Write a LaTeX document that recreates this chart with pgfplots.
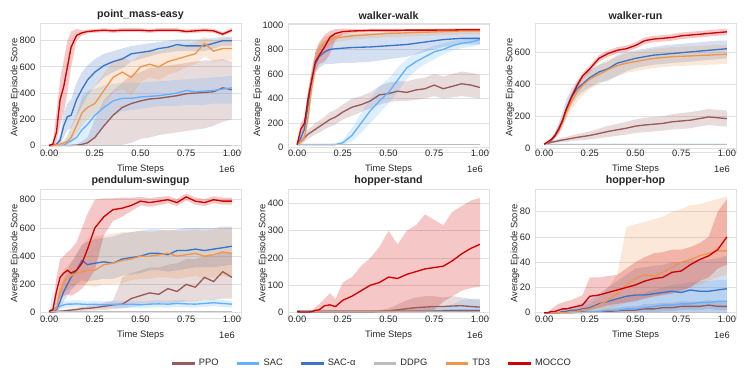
\documentclass[border=0pt]{standalone}
\usepackage{fontspec}
\setmainfont{Liberation Sans}
\usepackage{pgfplots}
\usepackage{pgfplotstable}
\pgfplotsset{compat=1.18}
\usepgfplotslibrary{fillbetween}

\definecolor{ppoc}{HTML}{985A5A}
\definecolor{sacc}{HTML}{62B0FF}
\definecolor{sacac}{HTML}{3A74C6}
\definecolor{ddpgc}{HTML}{BDBDBD}
\definecolor{tdc}{HTML}{F0954C}
\definecolor{moccoc}{HTML}{D00000}
\definecolor{gridc}{HTML}{E0E0E0}
\definecolor{txtc}{HTML}{262626}

% columns: mean, lower and upper edge of the band for each method
% a = PPO, b = SAC, c = SAC-alpha, d = DDPG, e = TD3, f = MOCCO
\pgfplotstableread{
x a aL aH b bL bH c cL cH d e eL eH f fL fH
0    0 0 0 0 0 0 0 0 0 0 0 0 0 0 0 0
0.02 0 0 0 0 0 0 0 0 10 0 0 0 5 10 0 20
0.04 0 0 0 0 0 0 10 0 30 0 5 0 15 100 30 250
0.06 0 0 0 0 0 5 40 10 80 0 10 0 25 350 150 500
0.08 0 0 0 2 0 20 150 60 250 0 20 5 40 450 250 650
0.10 0 0 0 20 0 80 220 120 320 0 30 10 70 600 400 800
0.12 0 0 0 35 0 150 230 130 350 0 60 20 120 750 600 870
0.15 2 0 10 60 0 220 350 220 480 0 150 80 250 840 800 890
0.18 8 0 30 120 0 380 430 300 560 0 250 150 350 860 840 880
0.21 20 0 60 160 10 420 500 380 610 0 290 200 400 870 855 885
0.25 60 0 200 230 60 430 560 450 660 0 320 230 450 875 860 890
0.30 150 0 350 290 160 460 610 520 700 0 420 300 550 880 865 895
0.35 230 0 420 340 230 470 640 560 720 0 520 400 640 875 860 890
0.40 290 5 480 360 260 480 660 590 740 0 560 430 680 880 865 895
0.45 320 20 540 360 270 480 700 640 760 0 520 380 640 880 865 895
0.50 340 50 560 370 280 480 710 660 770 0 600 480 700 880 865 895
0.55 355 60 590 375 290 485 720 680 780 0 620 520 720 875 860 890
0.60 360 80 600 380 300 490 740 700 790 0 600 500 720 880 865 895
0.65 370 90 610 390 300 495 750 710 800 0 640 540 750 880 865 895
0.70 380 100 620 400 300 500 770 720 810 0 660 560 760 880 865 895
0.75 395 110 630 420 310 505 760 720 810 0 680 600 770 870 855 885
0.80 400 120 640 410 310 510 760 720 810 0 700 620 790 875 860 890
0.85 405 130 650 415 310 515 760 720 810 0 780 680 830 880 865 895
0.90 410 150 650 420 320 520 780 740 820 0 720 640 800 875 860 890
0.95 440 180 660 430 320 525 800 760 830 0 740 650 820 850 835 865
1.00 425 200 640 440 320 530 800 760 830 0 740 650 820 880 865 895
}\tA

\pgfplotstableread{
x a aL aH b bL bH c cL cH d e eL eH f fL fH
0    25 20 30 25 20 30 25 20 30 25 25 20 30 25 20 30
0.02 50 30 70 25 20 30 80 50 110 25 50 30 70 150 100 200
0.04 80 50 110 25 20 30 150 100 200 25 80 50 110 200 160 240
0.06 110 70 150 25 20 30 350 250 450 25 250 180 320 400 330 470
0.08 130 90 170 25 20 30 550 450 650 25 500 420 580 550 480 620
0.10 150 110 200 25 20 30 680 600 770 25 700 620 780 700 620 780
0.12 170 120 220 25 20 30 740 650 830 25 800 740 860 750 680 850
0.15 200 150 250 25 20 30 780 680 870 25 850 800 900 820 700 920
0.18 230 170 290 25 20 30 800 680 900 25 880 840 920 900 760 950
0.21 250 190 310 25 20 35 805 685 910 25 895 860 930 930 880 965
0.25 290 230 350 40 25 60 810 690 920 25 900 870 935 945 920 970
0.30 330 260 400 100 50 160 815 690 925 25 910 880 940 950 935 965
0.35 350 290 420 200 120 280 818 695 930 25 915 885 945 952 940 965
0.40 380 320 450 300 200 400 820 700 935 25 920 890 950 955 945 967
0.45 430 350 500 380 280 500 825 710 935 25 925 895 955 955 945 967
0.50 440 370 530 450 360 560 830 720 940 25 930 900 958 955 945 967
0.55 460 380 540 550 450 650 835 730 940 25 932 902 960 955 945 967
0.60 450 380 540 650 560 720 840 740 940 25 935 905 962 957 947 968
0.65 470 390 560 700 630 770 850 760 945 25 938 908 964 957 947 968
0.70 480 400 570 740 680 800 860 780 945 25 940 910 966 957 947 968
0.75 510 420 600 780 720 830 870 800 945 25 942 912 968 957 947 968
0.80 480 400 580 800 760 850 880 820 945 25 945 915 970 958 948 970
0.85 500 410 600 830 790 870 885 830 950 25 947 917 970 958 948 970
0.90 520 420 620 850 810 880 890 840 950 25 950 920 972 960 950 970
0.95 510 410 610 860 820 890 890 840 950 25 950 920 972 960 950 970
1.00 490 400 590 880 840 900 890 840 950 25 950 920 972 960 950 970
}\tB

\pgfplotstableread{
x a aL aH b bL bH c cL cH d e eL eH f fL fH
0    25 20 30 25 20 30 25 20 30 25 25 20 30 25 20 30
0.02 30 25 35 25 20 30 35 30 40 25 35 30 40 40 32 48
0.04 38 30 45 25 20 30 50 40 60 25 55 45 65 55 45 65
0.06 42 32 52 25 20 30 80 60 100 25 80 65 95 80 65 95
0.08 47 35 60 25 20 30 120 90 160 25 110 90 130 120 100 140
0.10 52 38 66 25 20 30 170 130 220 25 160 130 190 170 150 190
0.12 55 40 70 25 20 30 240 190 300 25 220 180 260 240 220 260
0.15 62 45 80 25 20 30 320 270 370 25 290 240 340 320 300 340
0.18 68 48 88 25 20 30 370 320 420 25 350 290 400 390 370 410
0.21 73 52 95 25 20 30 400 350 450 25 390 330 440 450 430 470
0.25 80 55 105 25 20 30 440 380 490 25 430 370 480 495 475 515
0.30 92 62 122 25 20 30 475 410 520 25 460 400 520 560 540 580
0.35 105 70 140 25 20 30 495 420 540 25 490 430 550 590 570 610
0.40 115 78 152 25 20 30 530 450 580 25 515 450 570 610 590 630
0.45 125 85 165 25 20 30 545 480 600 25 530 470 590 620 600 640
0.50 138 95 180 25 20 30 560 500 610 25 540 480 600 640 620 660
0.55 145 100 190 25 20 30 570 510 620 25 550 490 610 670 650 690
0.60 150 105 195 25 20 30 580 520 630 25 560 500 620 680 660 700
0.65 155 110 200 25 20 30 585 525 640 25 565 505 625 685 665 705
0.70 165 118 212 25 20 30 590 530 645 25 570 510 630 690 670 710
0.75 170 120 220 25 20 30 595 535 650 25 573 513 633 700 680 720
0.80 175 125 225 25 20 30 600 540 655 25 575 515 635 705 685 725
0.85 185 135 235 25 20 30 605 545 660 25 578 518 638 710 690 730
0.90 195 145 245 25 20 30 610 550 665 25 580 520 640 715 695 735
0.95 190 140 240 25 20 30 615 555 670 25 583 523 643 720 700 740
1.00 185 135 235 25 20 30 620 560 670 25 585 525 645 725 705 745
}\tC

\pgfplotstableread{
x a aL aH b bL bH c cL cH d e eL eH f fL fH
0    5 0 10 5 0 10 10 5 15 8 10 5 15 10 5 15
0.02 5 0 12 20 5 150 15 5 30 8 15 8 25 20 10 35
0.04 8 2 15 40 15 70 20 10 40 8 30 15 50 150 60 250
0.06 10 4 18 45 25 70 80 30 150 8 150 80 220 250 100 380
0.08 12 5 20 55 30 80 150 80 240 8 220 140 300 280 120 400
0.10 15 6 24 60 35 85 200 120 300 8 240 160 330 300 130 430
0.12 18 8 28 60 35 85 250 160 350 8 260 180 360 280 120 450
0.15 22 10 34 62 38 87 300 200 420 8 280 200 400 300 140 500
0.18 28 12 40 60 35 85 370 230 480 8 290 200 480 350 170 600
0.21 30 14 45 58 33 83 340 220 500 8 300 190 520 450 220 700
0.25 35 15 55 60 35 85 350 230 520 8 300 180 540 600 300 800
0.30 45 20 70 55 30 80 360 240 530 8 340 200 550 680 550 810
0.35 55 25 85 60 35 85 350 240 540 8 350 200 560 730 650 810
0.40 60 30 250 58 33 83 380 260 560 8 370 210 570 740 680 815
0.45 100 40 280 60 35 85 390 270 570 8 380 230 570 760 720 815
0.50 120 50 300 55 30 80 400 280 580 8 400 240 580 790 760 820
0.55 140 60 320 60 35 85 420 300 590 8 400 240 570 780 750 810
0.60 130 60 320 62 37 87 420 300 590 8 410 250 580 790 760 820
0.65 170 70 340 60 35 85 410 290 580 8 420 250 590 800 775 825
0.70 150 70 350 65 40 90 440 300 590 8 400 240 580 780 755 805
0.75 200 80 380 62 37 87 440 310 600 8 410 250 580 820 795 845
0.80 180 80 380 60 35 85 450 320 600 8 420 260 590 790 765 815
0.85 250 90 400 65 40 90 440 320 600 8 400 240 580 780 755 805
0.90 220 90 400 70 45 95 450 320 600 8 410 250 590 800 775 825
0.95 290 100 430 65 40 90 460 330 610 8 430 260 600 790 765 815
1.00 250 100 420 60 35 85 470 340 610 8 420 250 600 790 765 815
}\tD

\pgfplotstableread{
x a aL aH b bL bH c cL cH d e eL eH f fL fH
0    3 0 5 5 2 8 5 2 8 3 5 3 7 3 0 5
0.02 3 0 5 5 2 8 5 2 8 3 5 3 7 2 0 5
0.04 3 0 5 5 2 8 5 2 8 3 5 3 7 2 0 5
0.06 3 0 5 5 2 8 5 2 8 3 5 3 7 2 0 5
0.08 3 0 5 5 2 8 5 2 8 3 5 3 7 3 0 5
0.10 3 0 5 5 2 8 5 2 8 3 5 3 7 8 0 20
0.12 3 0 5 5 2 8 5 2 8 3 5 3 7 10 0 30
0.15 3 0 5 5 2 8 5 2 8 3 5 3 7 25 0 50
0.18 3 0 5 5 2 8 5 2 8 3 5 3 7 28 0 70
0.21 3 0 5 5 2 8 5 2 8 3 5 3 7 22 0 50
0.25 3 0 5 5 2 8 5 2 8 3 5 3 7 45 0 110
0.30 3 0 5 5 2 8 5 2 8 3 5 3 7 60 0 130
0.35 3 0 5 5 2 8 5 2 8 3 5 3 7 80 0 170
0.40 3 0 5 5 2 8 5 2 8 3 5 3 7 100 0 200
0.45 4 0 8 5 2 8 5 2 8 3 5 3 7 110 0 240
0.50 6 0 15 5 2 8 5 2 8 3 5 3 7 130 0 300
0.55 10 2 30 5 2 10 5 2 8 3 5 3 7 125 0 250
0.60 14 3 45 5 2 12 5 2 8 3 5 3 7 140 0 300
0.65 18 5 55 5 2 14 5 2 9 3 5 3 7 150 0 320
0.70 20 5 60 6 2 16 5 2 9 3 5 3 7 160 0 360
0.75 22 5 60 6 2 18 5 2 10 3 5 3 7 165 10 340
0.80 22 5 55 7 2 22 6 2 10 3 5 3 7 170 40 320
0.85 24 5 60 8 2 30 6 2 12 3 5 3 7 190 60 370
0.90 25 5 55 8 2 45 6 2 12 3 5 3 7 215 80 390
0.95 22 5 50 8 2 50 6 2 12 3 5 3 7 235 90 410
1.00 20 5 50 8 2 45 6 2 12 3 5 3 7 250 95 420
}\tE

\pgfplotstableread{
x a aL aH b bL bH c cL cH d e eL eH f fL fH
0    0 0 0 0 0 0 0 0 0 0 0 0 0 0 0 0
0.02 0 0 0 0 0 0 0 0 0 0 0 0 0 0 0 0
0.04 0 0 0 0 0 0 0 0 0 0 0 0 0 1 0 3
0.06 0 0 0 0 0 0 0 0 0 0 0 0 0 1 0 5
0.08 0 0 0 0 0 0 0 0 0 0 0 0 0 2 0 7
0.10 0 0 0 0 0 0 1 0 2 0 0 0 0 3 0 8
0.12 0 0 0 0 0 0 1 0 3 0 0 0 1 3 0 9
0.15 0 0 1 0 0 0 2 0 5 0 1 0 2 4 0 10
0.18 0.5 0 1 0 0 0 2 0 6 0 1 0 3 5 0 12
0.21 0.5 0 1 0 0 0 3 0 8 0 2 0 5 6 0 14
0.25 0.5 0 1 1 0 3 4 0 10 0 3 0 7 13 2 28
0.30 0.5 0 2 1 0 5 7 0 15 0 6 1 12 14 4 28
0.35 1 0 3 2 0 8 9 0 20 0 10 3 20 16 6 29
0.40 1.5 0 4 2 0 10 11 0 25 0 15 5 30 18 7 30
0.45 2 0 5 3 0 12 13 0 30 0 22 8 68 20 8 35
0.50 2 0 5 3 0 14 14 0 35 0 27 10 70 22 9 40
0.55 3 0 7 4 0 16 14 0 36 0 30 12 72 25 11 44
0.60 3 0 7 5 0 18 15 0 37 0 29 12 74 27 13 47
0.65 4 1 8 6 0 20 16 0 38 0 32 14 76 28 14 48
0.70 4 1 8 6 0 22 17 0 40 0 36 16 80 32 15 50
0.75 5 2 9 7 0 23 16 0 40 0 40 18 82 33 17 50
0.80 5 2 9 7 0 24 18 0 42 0 42 20 85 38 20 52
0.85 5 2 9 8 0 25 17 0 42 0 45 22 86 42 25 55
0.90 6 3 10 8 0 25 17 0 42 0 47 25 88 45 28 60
0.95 5 2 9 9 0 26 18 0 43 0 49 28 90 50 35 80
1.00 5 2 9 9 0 26 19 0 45 0 49 30 92 60 38 90
}\tF

% mean line with its shaded band: table, column, colour, path id
\newcommand{\series}[4]{%
  \addplot[name path=#4u, draw=none, forget plot] table[x=x, y=#2H] {#1};
  \addplot[name path=#4l, draw=none, forget plot] table[x=x, y=#2L] {#1};
  \addplot[fill=#3, fill opacity=0.22, draw=none, forget plot] fill between[of=#4u and #4l];
  \addplot[#3, line width=1pt] table[x=x, y=#2] {#1};
}
\newcommand{\allseries}[2]{%
  \series{#1}{a}{ppoc}{#2a}
  \series{#1}{b}{sacc}{#2b}
  \series{#1}{c}{sacac}{#2c}
  \addplot[ddpgc, line width=1pt] table[x=x, y=d] {#1};
  \series{#1}{e}{tdc}{#2e}
  \series{#1}{f}{moccoc}{#2f}
}

\pgfplotsset{
  every axis title shift=0pt,
  panel/.style={
    scale only axis, width=150.75pt, height=96.75pt, anchor=south west,
    xmin=-0.05, xmax=1.05,
    xtick={0,0.25,0.5,0.75,1}, xticklabels={0.00,0.25,0.50,0.75,1.00},
    ymajorgrids, grid style={draw=gridc, line width=0.6pt},
    axis line style={draw=gridc, line width=0.6pt},
    major tick length=0pt,
    /pgf/number format/assume math mode=true,
    /pgf/number format/1000 sep={},
    tick label style={font=\fontsize{7}{8}\selectfont, text=txtc},
    xticklabel style={yshift=5pt},
    label style={font=\fontsize{7}{8}\selectfont, text=txtc},
    title style={font=\bfseries\fontsize{8}{9.6}\selectfont, text=txtc, yshift=-1.3pt},
    xlabel={Time Steps}, ylabel={Average Episode Score},
    xlabel style={at={(axis description cs:0.5,0)}, anchor=center, yshift=-12.75pt},
    ylabel style={yshift=-6.5pt},
    after end axis/.code={
      \node[anchor=east, font=\fontsize{7}{8}\selectfont, text=txtc,
        inner sep=0pt] at (rel axis cs:0.97,0) [yshift=-12.75pt] {1e6};
    },
  },
}

\begin{document}
\begin{tikzpicture}
\path (0,0) rectangle (560.25pt,280.5pt);

\begin{axis}[panel, at={(30pt,166.5pt)}, title={point\_mass-easy},
  ymin=-50, ymax=935, ytick={0,200,400,600,800}]
\allseries{\tA}{pa}
\end{axis}

\begin{axis}[panel, at={(216pt,166.5pt)}, title={walker-walk},
  ymin=-35, ymax=1015, ytick={0,200,400,600,800,1000}]
\allseries{\tB}{pb}
\end{axis}

\begin{axis}[panel, at={(401.25pt,166.5pt)}, title={walker-run},
  ymin=-23, ymax=780, ytick={0,200,400,600}]
\allseries{\tC}{pc}
\end{axis}

\begin{axis}[panel, at={(30pt,42pt)}, title={pendulum-swingup},
  ymin=-38, ymax=876, ytick={0,200,400,600,800}]
\allseries{\tD}{pd}
\end{axis}

\begin{axis}[panel, at={(216pt,42pt)}, title={hopper-stand},
  ymin=-20, ymax=453, ytick={0,100,200,300,400},
  legend columns=6,
  legend style={at={(0.418,-0.352)}, anchor=center, draw=none, fill=none,
    font=\fontsize{7}{8}\selectfont, text=txtc,
    /tikz/every even column/.append style={column sep=10.5pt}},
  legend image post style={line width=2.2pt},
  legend cell align=left]
\allseries{\tE}{pe}
\legend{PPO, SAC, SAC-α, DDPG, TD3, MOCCO}
\end{axis}

\begin{axis}[panel, at={(401.25pt,42pt)}, title={hopper-hop},
  ymin=-4.2, ymax=98, ytick={0,20,40,60,80}]
\allseries{\tF}{pf}
\end{axis}
\end{tikzpicture}
\end{document}
